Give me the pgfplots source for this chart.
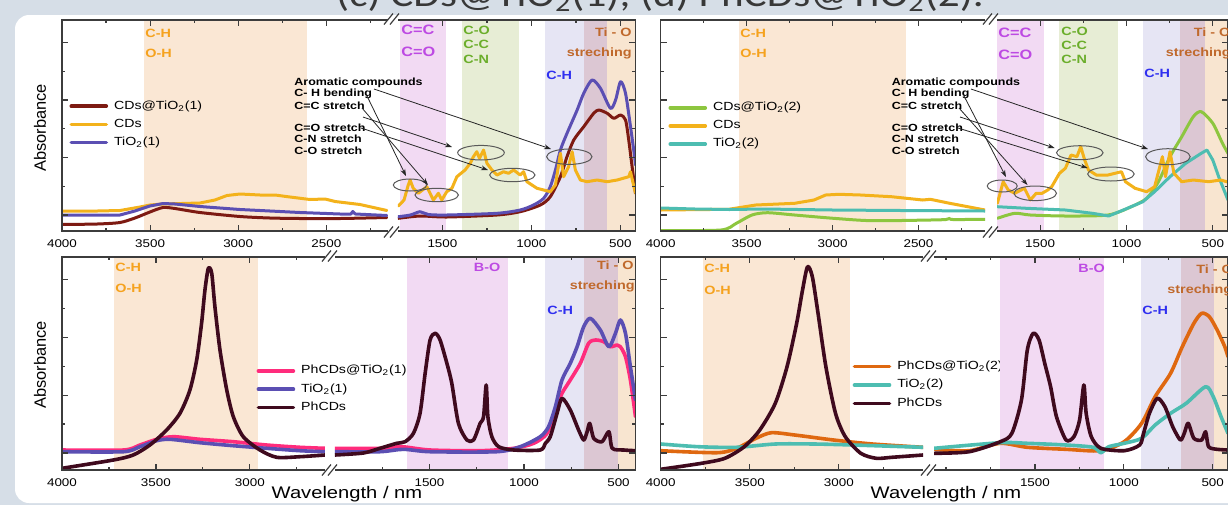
\documentclass[border=0pt]{standalone}
\usepackage{pgfplots}
\pgfplotsset{compat=1.18}
\usepackage{fontspec}
\setmainfont{Liberation Sans}
\newfontfamily\stf{Liberation Sans}[FakeStretch=1.2]
\newfontfamily\ttl{Carlito}[FakeStretch=1.2]
\usetikzlibrary{arrows.meta}
\definecolor{bgc}{HTML}{D6DEE7}
\definecolor{framec}{HTML}{3C3C3C}
\definecolor{bandO}{HTML}{FAE7D4}
\definecolor{bandP}{HTML}{F2DAF3}
\definecolor{bandG}{HTML}{E7EDD5}
\definecolor{bandL}{HTML}{E6E5F4}
\definecolor{bandM}{HTML}{DCC7D3}
\definecolor{bandC}{HTML}{F8E5D0}
\definecolor{txtO}{HTML}{F5A21E}
\definecolor{txtP}{HTML}{BD4AE3}
\definecolor{txtG}{HTML}{6BAE2B}
\definecolor{txtB}{HTML}{2F2FF0}
\definecolor{txtT}{HTML}{C0692C}
\definecolor{cCTa}{HTML}{7D1A12}
\definecolor{cCD}{HTML}{F3B21B}
\definecolor{cTa}{HTML}{5B4FB3}
\definecolor{cCTb}{HTML}{8DC63F}
\definecolor{cTb}{HTML}{4DBDB1}
\definecolor{cPTa}{HTML}{FF2C7C}
\definecolor{cPH}{HTML}{3F0A1E}
\definecolor{cPTb}{HTML}{DF6810}
\tikzset{
  frame/.style={draw=framec, line width=0.7pt},
  curve/.style={line width=1.5pt, line join=round, line cap=round},
  scurve/.style={line width=1.5pt, line join=round, line cap=round, smooth, tension=0.45},
  bcurve/.style={line width=1.8pt, line join=round, line cap=round, smooth, tension=0.45},
  lab/.style={font=\stf\bfseries\fontsize{6}{7}\selectfont, inner sep=0pt},
  ann/.style={font=\stf\bfseries\fontsize{5.2}{6}\selectfont, inner sep=0pt, anchor=west},
  arr/.style={draw=black!85, line width=0.4pt, -{Stealth[length=3.5pt,width=2.4pt]}},
  ell/.style={draw=black!65, line width=0.5pt},
  brk/.style={draw=framec, line width=0.6pt},
}
\newcommand\brk[2]{\draw[brk] ({#1-8},{-#2-5.5}) -- ({#1+1},{-#2+5.5}) ({#1-2},{-#2-5.5}) -- ({#1+7},{-#2+5.5});}
\pgfplotsset{
  seg/.style={
    scale only axis, anchor=south west, axis on top,
    ymin=0, x dir=reverse, clip mode=individual,
    axis line style={draw=none},
    tick align=inside,
    tick style={draw=framec, line width=0.6pt},
    major tick length=3.2pt, minor tick length=1.7pt,
    minor y tick num=1,
    yticklabels={,,,},
    scaled x ticks=false,
    xtick pos=both, xticklabel pos=lower,
    /pgf/number format/1000 sep={},
    /pgf/number format/assume math mode=true,
    xticklabel style={font=\stf\fontsize{5.6}{6}\selectfont, yshift=-1pt, text=black},
  },
  topp/.style={seg, ymax=211, height=105.5pt, ytick={16,73.5,131,188.5}},
  botp/.style={seg, ymax=213, height=106.5pt, ytick={17,74.9,132.8,190.7}},
  lseg/.style={ytick pos=left},
  rseg/.style={ytick pos=right},
  leg/.style={legend style={at={(axis description cs:#1)}, anchor=west, draw=none, fill=none,
      inner sep=0pt, outer sep=0pt, font=\stf\fontsize{5.9}{6}\selectfont, row sep=-0.6pt,
      column sep=1pt, cells={anchor=west}},
    legend image code/.code={\draw[##1, line width=1.8pt] (0pt,0pt) -- (17.5pt,0pt);}},
}
\begin{document}
\begin{tikzpicture}[x=0.5pt,y=0.5pt]
\useasboundingbox (0,0) rectangle (1228,-505);
\clip (0,0) rectangle (1228,-505);
\fill[bgc] (0,0) rectangle (1228,-505);
\fill[white, rounded corners=7pt] (15,-15) rectangle (1300,-503);
\node[font=\ttl\fontsize{18}{20}\selectfont, text=black!78, anchor=base] at (660,-6) {(c) CDs@TiO\textsubscript{2}(1), (d) PhCDs@TiO\textsubscript{2}(2).};

% ---------------- TOP LEFT ----------------
\begin{axis}[topp, lseg, at={(31pt,-115.5pt)}, width=163pt, xmin=2150, xmax=4000,
  xtick={4000,3500,3000,2500}, minor xtick={3750,3250,2750,2250}, leg={0.023,0.505}]
\fill[bandO] (axis cs:3535,0) rectangle (axis cs:2610,211);
\addplot[scurve, cCTa] coordinates {(4000,6.5) (3800,7) (3671,8.5) (3586,13) (3501,19) (3427,23.5) (3359,22.5) (3217,18.5) (2990,14.5) (2820,13) (2649,12.5) (2422,12.5) (2156,13.5)};
\addlegendentry{CDs@TiO\textsubscript{2}(1)}
\addplot[curve, cCD] coordinates {(4000,20) (3800,20) (3671,20.5) (3557,24) (3501,26) (3427,27) (3217,28) (3132,31) (3064,35.5) (2990,37) (2876,36) (2791,36) (2706,34) (2593,31.5) (2507,32) (2450,29.5) (2309,26.5) (2156,20.5)};
\addlegendentry{CDs}
\addplot[curve, cTa] coordinates {(4000,16) (3671,16) (3586,20) (3501,25) (3427,27.5) (3359,27) (3217,24.5) (2990,21.5) (2820,20) (2649,18.5) (2422,17) (2360,17) (2350,19.5) (2335,17) (2156,15.5)};
\addlegendentry{TiO\textsubscript{2}(1)}
\draw[frame] (rel axis cs:1,0) -- (rel axis cs:0,0) -- (rel axis cs:0,1) -- (rel axis cs:1,1);
\end{axis}
\begin{axis}[topp, rseg, at={(199pt,-115.5pt)}, width=118.75pt, xmin=415, xmax=1750,
  xtick={1500,1000,500}, minor xtick={1250,750}]
\fill[bandP] (axis cs:1740,0) rectangle (axis cs:1481,211);
\fill[bandG] (axis cs:1391,0) rectangle (axis cs:1072,211);
\fill[bandL] (axis cs:922,0) rectangle (axis cs:706,211);
\fill[bandM] (axis cs:706,0) rectangle (axis cs:574,211);
\fill[bandC] (axis cs:574,0) rectangle (axis cs:415,211);
\addplot[scurve, cCTa] coordinates {(1748,12.7) (1626,15) (1476,14) (1194,16) (1063,19.3) (950,26) (894,34.3) (837,54.3) (800,74.3) (762,91) (706,104.3) (650,117.7) (621,121) (574,117.7) (537,112.7) (499,116) (471,111) (453,91) (434,64.3) (415,37.7)};
\addplot[scurve, cTa] coordinates {(1748,14.3) (1680,16) (1626,19.3) (1580,16.5) (1476,16) (1194,17.7) (1063,21) (988,26) (931,32.7) (894,44.3) (865,61) (837,81) (800,97.7) (743,121) (706,137.7) (659,151) (612,142.7) (556,122.7) (527,131) (499,149.3) (471,137.7) (443,104.3) (420,74.3) (415,66)};
\addplot[curve, cCD] coordinates {(1748,25) (1716,31) (1694,45) (1682,51) (1665,43) (1636,37.7) (1588,44.3) (1551,31) (1523,37.7) (1504,31) (1476,39.3) (1447,42.7) (1419,54.3) (1373,61) (1344,67.7) (1326,74.3) (1307,79.3) (1292,72.7) (1269,81) (1250,67.7) (1222,61) (1194,56) (1157,59.3) (1129,57.7) (1100,61) (1063,56) (1044,59.3) (1025,49.3) (997,46) (969,42.7) (931,41) (894,39.3) (865,46) (837,77.7) (819,54.3) (791,64.3) (771,79.3) (753,61) (725,51) (687,49.3) (631,51) (574,49.3) (518,51) (453,54.3) (443,59.3) (424,44.3) (415,38)};
\draw[frame] (rel axis cs:0,0) -- (rel axis cs:1,0) -- (rel axis cs:1,1) -- (rel axis cs:0,1);
\end{axis}

% ---------------- TOP RIGHT ----------------
\begin{axis}[topp, lseg, at={(330.35pt,-115.5pt)}, width=162.15pt, xmin=2113, xmax=4000,
  xtick={4000,3500,3000,2500}, minor xtick={3750,3250,2750,2250}, leg={0.024,0.498}]
\fill[bandO] (axis cs:3542,0) rectangle (axis cs:2573,211);
\addplot[scurve, cCTb] coordinates {(4000,0.5) (3650,1) (3560,7.7) (3469,16) (3379,18.3) (3221,16) (2995,12.7) (2770,10.3) (2431,11) (2340,11.5) (2318,12.7) (2300,11.5) (2113,11.7)};
\addlegendentry{CDs@TiO\textsubscript{2}(2)}
\addplot[curve, cCD] coordinates {(4000,21) (3604,21.7) (3447,26) (3221,27.7) (3108,31) (3040,36) (2962,36.7) (2837,36) (2657,34.3) (2476,31) (2431,31.7) (2318,27.7) (2113,21)};
\addlegendentry{CDs}
\addplot[curve, cTb] coordinates {(4000,23) (3800,22) (3600,21.5) (3400,22) (3000,21) (2600,20.5) (2113,20)};
\addlegendentry{TiO\textsubscript{2}(2)}
\draw[frame] (rel axis cs:1,0) -- (rel axis cs:0,0) -- (rel axis cs:0,1) -- (rel axis cs:1,1);
\end{axis}
\begin{axis}[topp, rseg, at={(498.5pt,-115.5pt)}, width=115.5pt, xmin=412, xmax=1750,
  xtick={1500,1000,500}, minor xtick={1250,750}]
\fill[bandP] (axis cs:1750,0) rectangle (axis cs:1478,211);
\fill[bandG] (axis cs:1389,0) rectangle (axis cs:1052,211);
\fill[bandL] (axis cs:907,0) rectangle (axis cs:689,211);
\fill[bandM] (axis cs:689,0) rectangle (axis cs:545,211);
\fill[bandC] (axis cs:545,0) rectangle (axis cs:412,211);
\addplot[scurve, cCTb] coordinates {(1748,12.7) (1647,17.7) (1557,16) (1354,15) (1107,16) (972,24.3) (883,32.7) (815,49.3) (748,74.3) (680,94.3) (613,114.3) (567,119.3) (500,107.7) (444,87.7) (412,77.7)};
\addplot[curve, cTb] coordinates {(1748,24.3) (1579,22.7) (1354,21) (1197,17.7) (1103,15) (1018,21) (905,29.3) (837,39.3) (748,54.3) (657,67.7) (567,77.7) (534,81) (500,71) (466,54.3) (412,31)};
\addplot[curve, cCD] coordinates {(1748,27.7) (1714,49.3) (1685,41) (1647,37.7) (1591,42.7) (1557,31) (1523,37.7) (1489,37.7) (1456,41) (1433,44.3) (1388,57.7) (1354,62.7) (1321,76) (1287,74.3) (1265,84.3) (1242,71) (1220,61) (1175,56) (1107,56) (1029,59.3) (1006,49.3) (950,42.7) (883,39.3) (837,44.3) (792,74.3) (774,54.3) (748,79.3) (725,57.7) (680,49.3) (613,51) (523,49.3) (455,51) (412,49)};
\draw[frame] (rel axis cs:0,0) -- (rel axis cs:1,0) -- (rel axis cs:1,1) -- (rel axis cs:0,1);
\end{axis}

% ---------------- BOTTOM LEFT ----------------
\begin{axis}[botp, lseg, at={(31pt,-235pt)}, width=131.5pt, xmin=2600, xmax=4000,
  xtick={4000,3500,3000}, minor xtick={3750,3250,2750}, leg={0.74,0.379}]
\fill[bandO] (axis cs:3722,0) rectangle (axis cs:2959,213);
\addplot[bcurve, cPTa] coordinates {(4000,20) (3672,20) (3585,25) (3496,30.7) (3407,33.3) (3266,30.7) (3088,28.3) (2911,25) (2733,22.7) (2600,21.7)};
\addlegendentry{PhCDs@TiO\textsubscript{2}(1)}
\addplot[bcurve, cTa] coordinates {(4000,18.3) (3672,18.3) (3585,23.3) (3496,29.3) (3425,30.7) (3266,27.3) (3088,24.3) (2911,21.7) (2733,19.3) (2600,18.3)};
\addlegendentry{TiO\textsubscript{2}(1)}
\addplot[bcurve, cPH] coordinates {(4000,1.7) (3727,10) (3621,15) (3532,25) (3443,40) (3372,56.7) (3319,80) (3283,110) (3257,146.7) (3239,180) (3221,201.7) (3203,196.7) (3186,163.3) (3159,120) (3123,80) (3088,53.3) (3035,33.3) (2946,20) (2857,12.7) (2733,13.3) (2600,15)};
\addlegendentry{PhCDs}
\draw[frame] (rel axis cs:1,0) -- (rel axis cs:0,0) -- (rel axis cs:0,1) -- (rel axis cs:1,1);
\end{axis}
\begin{axis}[botp, rseg, at={(167.5pt,-235pt)}, width=150.25pt, xmin=410, xmax=2000,
  xtick={1500,1000,500}, minor xtick={1750,1250,750}]
\fill[bandP] (axis cs:1620,0) rectangle (axis cs:1082,213);
\fill[bandL] (axis cs:891,0) rectangle (axis cs:680,213);
\fill[bandM] (axis cs:680,0) rectangle (axis cs:504,213);
\fill[bandC] (axis cs:504,0) rectangle (axis cs:410,213);
\addplot[bcurve, cPTa] coordinates {(2000,21.7) (1744,21.7) (1646,23.3) (1497,20) (1232,19.3) (1055,21.7) (949,26.7) (878,36.7) (825,63.3) (799,76.7) (755,90) (702,106.7) (658,126.7) (622,130) (578,128.3) (543,123.3) (507,125) (490,123.3) (463,113.3) (437,90) (410,53.3)};
\addplot[bcurve, cTa] coordinates {(2000,18.3) (1762,18.3) (1638,20.7) (1497,18.3) (1144,18.3) (1020,23.3) (914,33.3) (870,43.3) (834,63.3) (799,90) (755,106.7) (719,123.3) (684,143.3) (649,151.7) (596,140) (551,123.3) (516,136.7) (490,150) (463,136.7) (437,103.3) (410,70)};
\addplot[bcurve, cPH] coordinates {(2000,15) (1850,17) (1762,21.7) (1673,26.7) (1629,28.3) (1585,36.7) (1550,56.7) (1523,96.7) (1497,130) (1470,136.7) (1444,130) (1408,106.7) (1382,86.7) (1347,46.7) (1302,30) (1267,30) (1232,46.7) (1214,53.3) (1200,85) (1191,53.3) (1170,33.3) (1134,23.3) (1055,20) (914,20) (887,26.7) (861,33.3) (825,56.7) (799,71.7) (755,60) (711,40) (684,30) (666,38.3) (652,46.7) (631,31.7) (587,28.3) (551,38.3) (533,21.7) (472,20) (410,19.3)};
\draw[frame] (rel axis cs:0,0) -- (rel axis cs:1,0) -- (rel axis cs:1,1) -- (rel axis cs:0,1);
\end{axis}

% ---------------- BOTTOM RIGHT ----------------
\begin{axis}[botp, lseg, at={(330.35pt,-235pt)}, width=131.15pt, xmin=2528, xmax=4000,
  xtick={4000,3500,3000}, minor xtick={3750,3250,2750}, leg={0.732,0.399}]
\fill[bandO] (axis cs:3763,0) rectangle (axis cs:2939,213);
\addplot[bcurve, cPTb] coordinates {(4000,19.3) (3683,17.3) (3574,21.7) (3465,31.7) (3379,37.3) (3248,35) (3030,30) (2812,26) (2528,22.7)};
\addlegendentry{PhCDs@TiO\textsubscript{2}(2)}
\addplot[bcurve, cTb] coordinates {(4000,26) (3789,23.3) (3574,22.7) (3357,26) (3140,26) (2921,25) (2528,22.7)};
\addlegendentry{TiO\textsubscript{2}(2)}
\addplot[bcurve, cPH] coordinates {(4000,0.7) (3771,6.7) (3640,11.7) (3531,23.3) (3444,40) (3357,66.7) (3291,103.3) (3237,146.7) (3204,180) (3176,203.3) (3149,193.3) (3117,156.7) (3073,103.3) (3019,56.7) (2964,33.3) (2877,16.7) (2790,11.7) (2703,12.7) (2528,15)};
\addlegendentry{PhCDs}
\draw[frame] (rel axis cs:1,0) -- (rel axis cs:0,0) -- (rel axis cs:0,1) -- (rel axis cs:1,1);
\end{axis}
\begin{axis}[botp, rseg, at={(467pt,-235pt)}, width=147pt, xmin=414, xmax=2068,
  xtick={1500,1000,500}, minor xtick={2000,1750,1250,750}]
\fill[bandP] (axis cs:1696,0) rectangle (axis cs:1111,213);
\fill[bandL] (axis cs:904,0) rectangle (axis cs:677,213);
\fill[bandM] (axis cs:677,0) rectangle (axis cs:491,213);
\fill[bandC] (axis cs:491,0) rectangle (axis cs:414,213);
\addplot[bcurve, cPTb] coordinates {(2068,20.7) (1870,19.3) (1695,26.7) (1543,22.7) (1325,20.7) (1129,19.3) (998,28.3) (900,46.7) (824,73.3) (737,96.7) (671,123.3) (606,146.7) (562,156.7) (519,153.3) (475,140) (432,123.3) (414,113.3)};
\addplot[bcurve, cTb] coordinates {(2068,21.7) (1695,27.3) (1543,26.7) (1325,25) (1172,22.7) (1129,17.3) (1085,23.3) (998,26.7) (900,31.7) (824,45) (737,56.7) (649,66.7) (540,83.3) (497,73.3) (453,53.3) (414,36.7)};
\addplot[bcurve, cPH] coordinates {(2068,16.7) (1870,18.3) (1695,28.3) (1630,36.7) (1576,70) (1543,120) (1510,136.7) (1477,130) (1445,106.7) (1412,83.3) (1379,53.3) (1325,30) (1281,33.3) (1249,50) (1225,85) (1212,56.7) (1183,33.3) (1129,21.7) (998,19.3) (911,25) (889,36.7) (856,56.7) (812,71.7) (769,63.3) (725,43.3) (682,30) (660,36.7) (638,46.7) (606,31.7) (562,30) (540,38.3) (523,23.3) (475,20.7) (414,20)};
\draw[frame] (rel axis cs:0,0) -- (rel axis cs:1,0) -- (rel axis cs:1,1) -- (rel axis cs:0,1);
\end{axis}

% ---------------- break marks ----------------
\brk{392}{19} \brk{392}{232}
\brk{991}{19} \brk{991}{232}
\brk{330}{256} \brk{330}{470}
\brk{929}{256} \brk{929}{470}

% ---------------- axis titles ----------------
\node[font=\fontsize{8.2}{9}\selectfont, rotate=90] at (40,-128) {Absorbance};
\node[font=\fontsize{8.2}{9}\selectfont, rotate=90] at (40,-365) {Absorbance};
\node[font=\stf\fontsize{8.4}{9}\selectfont] at (347,-494) {Wavelength / nm};
\node[font=\stf\fontsize{8.4}{9}\selectfont] at (946,-494) {Wavelength / nm};

% ---------------- band labels top ----------------
\foreach \tx in {145,740}{
  \node[lab, text=txtO, anchor=west] at (\tx,-33) {C-H};
  \node[lab, text=txtO, anchor=west] at (\tx,-53) {O-H};
}
\node[lab, text=txtP, anchor=west, font=\stf\bfseries\fontsize{6.8}{7}\selectfont] at (401,-29.5) {C=C};
\node[lab, text=txtP, anchor=west, font=\stf\bfseries\fontsize{6.8}{7}\selectfont] at (401,-51.5) {C=O};
\node[lab, text=txtP, anchor=west, font=\stf\bfseries\fontsize{6.8}{7}\selectfont] at (998,-33) {C=C};
\node[lab, text=txtP, anchor=west, font=\stf\bfseries\fontsize{6.8}{7}\selectfont] at (998,-55) {C=O};
\node[lab, text=txtG, anchor=west] at (463,-30.5) {C-O};
\node[lab, text=txtG, anchor=west] at (463,-44.5) {C-C};
\node[lab, text=txtG, anchor=west] at (463,-59) {C-N};
\node[lab, text=txtG, anchor=west] at (1061,-31) {C-O};
\node[lab, text=txtG, anchor=west] at (1061,-45) {C-C};
\node[lab, text=txtG, anchor=west] at (1061,-59.5) {C-N};
\node[lab, text=txtB, anchor=west] at (546,-75) {C-H};
\node[lab, text=txtB, anchor=west] at (1144,-73) {C-H};
\node[lab, text=txtT, anchor=east] at (632,-32.5) {Ti - O};
\node[lab, text=txtT, anchor=east] at (632,-53.3) {streching};
\node[lab, text=txtT, anchor=west] at (1193.5,-32) {Ti - O};
\node[lab, text=txtT, anchor=west] at (1165.5,-53.3) {streching};
% ---------------- band labels bottom ----------------
\node[lab, text=txtO, anchor=west] at (115,-267) {C-H};
\node[lab, text=txtO, anchor=west] at (115,-288.5) {O-H};
\node[lab, text=txtO, anchor=west] at (704,-268.5) {C-H};
\node[lab, text=txtO, anchor=west] at (704,-290) {O-H};
\node[lab, text=txtP, anchor=west] at (473.5,-267) {B-O};
\node[lab, text=txtP, anchor=west] at (1078,-268) {B-O};
\node[lab, text=txtB, anchor=west] at (547,-310) {C-H};
\node[lab, text=txtB, anchor=west] at (1142,-310) {C-H};
\node[lab, text=txtT, anchor=east] at (634,-265) {Ti - O};
\node[lab, text=txtT, anchor=east] at (635,-286.7) {streching};
\node[lab, text=txtT, anchor=west] at (1196,-269) {Ti - O};
\node[lab, text=txtT, anchor=west] at (1167,-290) {streching};

% ---------------- annotations (top panels) ----------------
\foreach \ox in {0,597.4}{
  \node[ann] at (294+\ox,-82.5) {Aromatic compounds};
  \node[ann] at (294+\ox,-94) {C- H bending};
  \node[ann] at (294+\ox,-106) {C=C stretch};
  \node[ann] at (294+\ox,-127.5) {C=O stretch};
  \node[ann] at (294+\ox,-139) {C-N stretch};
  \node[ann] at (294+\ox,-151) {C-O stretch};
}
\draw[ell] (410,-185) ellipse [x radius=16.7, y radius=6];
\draw[ell] (436.7,-195) ellipse [x radius=21.7, y radius=6.7];
\draw[ell] (481,-152.7) ellipse [x radius=23.3, y radius=7.3];
\draw[ell] (512.3,-175) ellipse [x radius=22.7, y radius=6.7];
\draw[ell] (569.3,-156.7) ellipse [x radius=22.7, y radius=7.7];
\draw[arr] (374,-89) -- (551,-149);
\draw[arr] (367,-96) -- (406,-176);
\draw[arr] (362,-108) -- (428,-185);
\draw[arr] (363,-117) -- (452,-147);
\draw[arr] (361,-128) -- (488,-170);
\draw[ell] (1002.2,-186) ellipse [x radius=15, y radius=6];
\draw[ell] (1035.2,-193.3) ellipse [x radius=21.3, y radius=7.3];
\draw[ell] (1079.8,-152.7) ellipse [x radius=23.3, y radius=7];
\draw[ell] (1110.9,-174) ellipse [x radius=23.3, y radius=7];
\draw[ell] (1167.9,-156.7) ellipse [x radius=22.3, y radius=8];
\draw[arr] (971,-89) -- (1148,-149);
\draw[arr] (964,-96) -- (1006,-177);
\draw[arr] (959,-108) -- (1027.5,-185);
\draw[arr] (960,-117) -- (1054.6,-148);
\draw[arr] (958,-128) -- (1087.6,-168);
\end{tikzpicture}
\end{document}
